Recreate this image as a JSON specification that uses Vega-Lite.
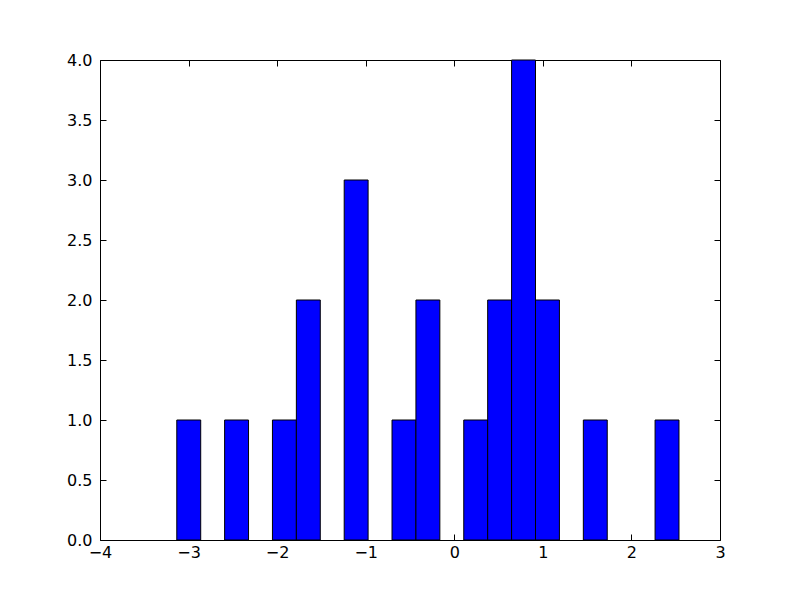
{
  "$schema": "https://vega.github.io/schema/vega-lite/v6.json",
  "autosize": "none",
  "width": 620,
  "height": 480,
  "padding": {"left": 100, "top": 60, "right": 80, "bottom": 60},
  "background": "white",
  "config": {
    "view": {"stroke": "black", "strokeWidth": 1},
    "axis": {
      "grid": false,
      "domain": false,
      "tickColor": "black",
      "tickSize": -6,
      "tickWidth": 1,
      "labelFont": "DejaVu Sans",
      "labelFontSize": 16,
      "labelColor": "black",
      "title": null
    }
  },
  "data": {
    "values": [
      {"start": -3.133, "end": -2.863, "count": 1},
      {"start": -2.593, "end": -2.323, "count": 1},
      {"start": -2.053, "end": -1.783, "count": 1},
      {"start": -1.783, "end": -1.513, "count": 2},
      {"start": -1.243, "end": -0.973, "count": 3},
      {"start": -0.703, "end": -0.433, "count": 1},
      {"start": -0.433, "end": -0.163, "count": 2},
      {"start": 0.107, "end": 0.377, "count": 1},
      {"start": 0.377, "end": 0.647, "count": 2},
      {"start": 0.647, "end": 0.917, "count": 4},
      {"start": 0.917, "end": 1.187, "count": 2},
      {"start": 1.457, "end": 1.727, "count": 1},
      {"start": 2.267, "end": 2.537, "count": 1}
    ]
  },
  "layer": [
    {
      "mark": {"type": "bar", "fill": "#0000ff", "stroke": "black", "strokeWidth": 1},
      "encoding": {
        "x": {"field": "start", "type": "quantitative",
              "scale": {"domain": [-4, 3], "nice": false, "zero": false},
              "axis": {"orient": "bottom", "values": [-4, -3, -2, -1, 0, 1, 2, 3], "format": "d", "labelPadding": 10, "labelFlush": false}},
        "x2": {"field": "end"},
        "y": {"field": "count", "type": "quantitative",
              "scale": {"domain": [0, 4], "nice": false},
              "axis": {"orient": "left", "values": [0, 0.5, 1, 1.5, 2, 2.5, 3, 3.5, 4], "format": ".1f", "labelPadding": 14, "labelFlush": false}},
        "y2": {"datum": 0}
      }
    },
    {
      "mark": {"type": "bar", "opacity": 0},
      "encoding": {
        "x": {"field": "start", "type": "quantitative",
              "scale": {"domain": [-4, 3], "nice": false, "zero": false},
              "axis": {"orient": "top", "labels": false, "values": [-4, -3, -2, -1, 0, 1, 2, 3]}},
        "x2": {"field": "end"},
        "y": {"field": "count", "type": "quantitative",
              "scale": {"domain": [0, 4], "nice": false},
              "axis": {"orient": "right", "labels": false, "values": [0, 0.5, 1, 1.5, 2, 2.5, 3, 3.5, 4]}},
        "y2": {"datum": 0}
      }
    }
  ],
  "resolve": {"axis": {"x": "independent", "y": "independent"}}
}
